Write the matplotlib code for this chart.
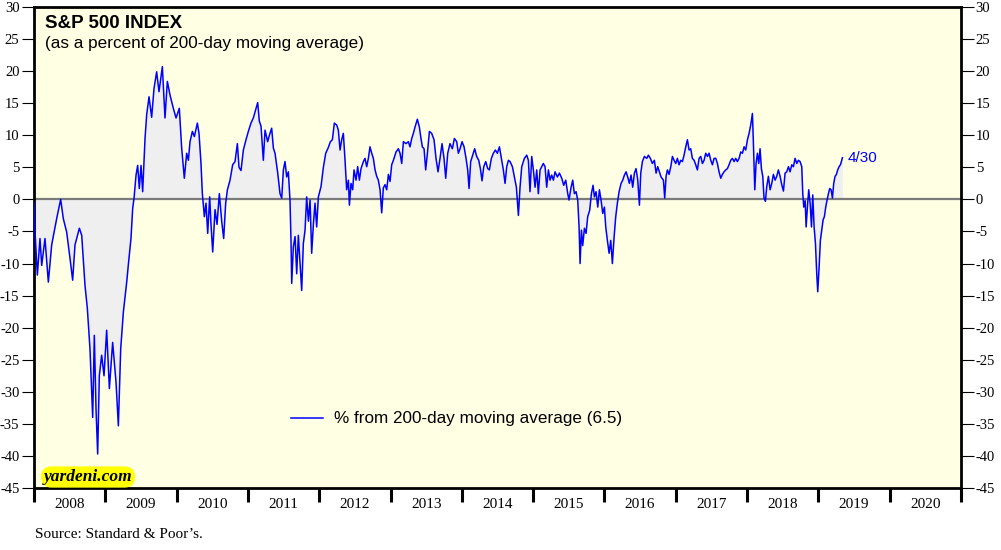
import matplotlib.pyplot as plt

plt.rcParams["axes.unicode_minus"] = False

# decimal year of each reading, and % above/below the 200-day moving average
years = [
    2008.000, 2008.014, 2008.047, 2008.084, 2008.108, 2008.154, 2008.201, 2008.248, 2008.318, 2008.374,
    2008.411, 2008.458, 2008.505, 2008.542, 2008.575, 2008.636, 2008.669, 2008.715, 2008.748, 2008.785,
    2008.823, 2008.846, 2008.870, 2008.893, 2008.916, 2008.949, 2008.982, 2009.019, 2009.057, 2009.103,
    2009.150, 2009.183, 2009.216, 2009.253, 2009.300, 2009.323, 2009.360, 2009.384, 2009.403, 2009.431,
    2009.454, 2009.477, 2009.501, 2009.524, 2009.557, 2009.580, 2009.613, 2009.650, 2009.683, 2009.720,
    2009.753, 2009.800, 2009.837, 2009.870, 2009.907, 2009.954, 2009.992, 2010.038,
    2010.071, 2010.108, 2010.141, 2010.165, 2010.188, 2010.221, 2010.249, 2010.291, 2010.314, 2010.342,
    2010.361, 2010.389, 2010.412, 2010.436, 2010.464, 2010.482, 2010.506, 2010.539, 2010.567, 2010.599,
    2010.632, 2010.660, 2010.688, 2010.712, 2010.749, 2010.786, 2010.819, 2010.852, 2010.875, 2010.903,
    2010.936, 2010.973, 2011.006, 2011.043, 2011.076, 2011.109, 2011.137, 2011.160, 2011.184, 2011.216,
    2011.240, 2011.277, 2011.301, 2011.333, 2011.357, 2011.380, 2011.418, 2011.450, 2011.474, 2011.497,
    2011.520, 2011.544, 2011.567, 2011.590, 2011.604, 2011.614, 2011.637, 2011.661, 2011.684, 2011.707,
    2011.731, 2011.754, 2011.777, 2011.801, 2011.824, 2011.848, 2011.871, 2011.894, 2011.918, 2011.941,
    2011.964, 2011.988, 2012.025, 2012.058, 2012.091, 2012.128, 2012.156, 2012.184, 2012.212,
    2012.245, 2012.268, 2012.292, 2012.315, 2012.338, 2012.362, 2012.385, 2012.409, 2012.423, 2012.446,
    2012.469, 2012.488, 2012.516, 2012.539, 2012.563, 2012.586, 2012.619, 2012.642, 2012.666, 2012.689,
    2012.712, 2012.736, 2012.759, 2012.783, 2012.806, 2012.829, 2012.853, 2012.876, 2012.899, 2012.923,
    2012.946, 2012.970, 2012.993, 2013.016, 2013.040, 2013.077, 2013.110, 2013.133, 2013.157, 2013.180,
    2013.217, 2013.250, 2013.273, 2013.297, 2013.320, 2013.344, 2013.376, 2013.404, 2013.423, 2013.446,
    2013.470, 2013.493, 2013.517, 2013.545, 2013.577, 2013.610, 2013.638, 2013.666, 2013.694, 2013.722,
    2013.750, 2013.774, 2013.802, 2013.834, 2013.867, 2013.895, 2013.928, 2013.951, 2013.975, 2014.003,
    2014.031, 2014.059, 2014.082, 2014.101, 2014.124, 2014.152, 2014.180, 2014.208, 2014.237, 2014.260,
    2014.283, 2014.307, 2014.335, 2014.363, 2014.386, 2014.414, 2014.442, 2014.470, 2014.498, 2014.527,
    2014.559, 2014.582, 2014.606, 2014.629, 2014.653, 2014.676, 2014.709, 2014.737, 2014.765, 2014.793,
    2014.816, 2014.840, 2014.877, 2014.910, 2014.933, 2014.956, 2014.980, 2015.003, 2015.027, 2015.050,
    2015.073, 2015.097, 2015.120, 2015.143, 2015.167, 2015.190, 2015.214, 2015.237, 2015.260, 2015.284,
    2015.307, 2015.340, 2015.368, 2015.401, 2015.429, 2015.457, 2015.485, 2015.503, 2015.532, 2015.555,
    2015.578, 2015.602, 2015.625, 2015.644, 2015.658, 2015.677, 2015.695, 2015.719, 2015.742, 2015.765,
    2015.793, 2015.817, 2015.840, 2015.859, 2015.882, 2015.906, 2015.929, 2015.952, 2015.976, 2015.999,
    2016.018, 2016.041, 2016.065, 2016.088, 2016.111, 2016.135, 2016.158, 2016.181, 2016.205, 2016.233,
    2016.256, 2016.280, 2016.303, 2016.326, 2016.350, 2016.373, 2016.396, 2016.420, 2016.443, 2016.467,
    2016.490, 2016.509, 2016.532, 2016.560, 2016.593, 2016.616, 2016.644, 2016.672, 2016.700, 2016.724,
    2016.747, 2016.770, 2016.794,
    2016.827, 2016.845, 2016.864, 2016.883, 2016.906, 2016.930, 2016.953, 2016.976, 2017.000, 2017.023,
    2017.046, 2017.070, 2017.093, 2017.116, 2017.140, 2017.163, 2017.187, 2017.210, 2017.233, 2017.257,
    2017.280, 2017.303, 2017.327, 2017.350, 2017.374, 2017.397, 2017.420, 2017.444, 2017.467, 2017.491,
    2017.514, 2017.537, 2017.561, 2017.584, 2017.607, 2017.631, 2017.654, 2017.677, 2017.701, 2017.724,
    2017.747, 2017.771, 2017.794, 2017.818, 2017.841, 2017.864, 2017.888, 2017.911, 2017.935, 2017.958,
    2017.981, 2018.005, 2018.028, 2018.051, 2018.075, 2018.089, 2018.108, 2018.126, 2018.145, 2018.164,
    2018.182, 2018.201, 2018.220, 2018.238, 2018.257, 2018.276, 2018.299, 2018.323, 2018.346, 2018.369,
    2018.393, 2018.416, 2018.439, 2018.463, 2018.486, 2018.510, 2018.533, 2018.556, 2018.580, 2018.603,
    2018.627, 2018.650, 2018.673, 2018.697, 2018.720, 2018.743, 2018.767, 2018.781, 2018.795, 2018.814,
    2018.828, 2018.846, 2018.865, 2018.884, 2018.903, 2018.921, 2018.940, 2018.959, 2018.977, 2018.991,
    2019.010, 2019.028, 2019.047, 2019.066, 2019.084, 2019.103, 2019.122, 2019.141, 2019.159, 2019.178,
    2019.197, 2019.215, 2019.234, 2019.253, 2019.271, 2019.290, 2019.309, 2019.328, 2019.337,
]
pct_from_ma = [
    -0.5, -5.0, -11.8, -6.1, -10.3, -6.1, -12.9, -7.1, -3.0, 0.0,
    -3.0, -5.1, -9.2, -12.6, -7.1, -4.5, -5.6, -13.4, -17.0, -23.3,
    -34.0, -21.2, -32.8, -39.7, -27.5, -24.3, -27.5, -20.4, -29.5, -22.3,
    -28.5, -35.3, -23.3, -17.6, -12.9, -10.2, -6.1, -1.4, 0.2, 3.8,
    5.3, 1.7, 5.3, 1.2, 9.5, 13.2, 16.0, 12.8, 17.3, 19.9,
    16.8, 20.7, 12.7, 18.4, 16.3, 14.2, 12.7, 14.2,
    8.0, 3.3, 7.2, 6.1, 9.0, 10.6, 9.8, 11.9, 10.3, 5.6,
    0.9, -2.7, -0.6, -5.3, 0.4, -3.9, -8.2, -1.6, -3.9, 0.9,
    -3.4, -6.1, -0.6, 1.5, 3.0, 5.4, 5.9, 8.7, 5.0, 4.5,
    7.7, 9.3, 10.6, 11.9, 12.7, 14.0, 15.1, 12.2, 11.4, 6.1,
    10.8, 9.0, 10.0, 11.1, 8.0, 7.2, 4.1, 0.9, 0.2, 4.6,
    5.9, 3.5, 4.3, -0.1, -6.4, -13.1, -7.4, -5.8, -11.6, -5.6,
    -10.0, -14.2, -6.9, -4.8, 0.4, -3.4, -0.1, -8.4, -3.9, -0.6,
    -4.3, 0.4, 2.0, 5.0, 7.2, 8.1, 9.0, 9.3, 11.9,
    11.6, 10.8, 7.7, 9.3, 10.3, 6.1, 1.5, 3.0, -0.9, 2.5,
    1.5, 4.6, 3.0, 5.1, 3.0, 4.8, 5.9, 6.4, 5.1, 6.4,
    8.2, 7.2, 6.4, 4.6, 3.6, 3.0, 1.5, -2.1, 1.8, 2.3,
    1.5, 3.9, 2.8, 5.4, 6.1, 7.4, 7.9, 7.2, 5.6, 9.0,
    8.7, 9.0, 8.2, 9.5, 10.3, 11.3, 12.5, 11.3, 9.8, 8.2,
    7.9, 4.6, 7.2, 10.6, 10.3, 9.3, 6.4, 4.3, 6.4, 8.7,
    6.4, 3.3, 7.2, 8.7, 7.9, 9.5, 9.0, 7.2, 7.9, 9.0,
    8.2, 6.4, 4.6, 1.7, 5.9, 6.9, 7.9, 6.7, 6.1, 4.8,
    2.9, 5.1, 5.9, 4.8, 4.6, 6.4, 7.2, 7.7, 7.2, 8.2,
    6.1, 4.6, 2.5, 5.1, 6.1, 5.9, 5.1, 3.5, 1.9, -2.5,
    1.9, 5.1, 6.4, 6.9, 6.1, 1.2, 6.7, 4.6, 1.9, 4.6,
    0.9, 4.6, 5.1, 5.6, 5.1, 1.9, 4.6, 3.0, 3.8, 3.0,
    4.3, 3.5, 4.1, 3.3, 2.2, 3.0, 0.9, -0.1, 1.9, 3.0,
    0.9, 1.2, -0.1, -4.3, -10.0, -4.8, -7.2, -4.5, -5.3, -2.7,
    -1.7, 0.9, 2.2, 0.4, 1.2, -1.2, 1.5, -0.1, -2.2, -1.2,
    -4.3, -6.4, -8.4, -6.4, -10.0, -5.9, -2.7, -0.6, 1.2, 2.5,
    3.0, 3.8, 4.3, 3.5, 2.5, 3.8, 1.9, 4.1, 4.8, 3.0,
    -0.9, 4.1, 5.9, 6.7, 6.4, 6.9, 6.4, 5.6, 6.1, 4.1,
    5.1, 4.3, 3.5,
    3.0, 0.2, 3.6, 4.6, 3.9, 5.1, 6.7, 6.1, 5.6, 6.4,
    5.4, 6.1, 5.9, 6.9, 8.2, 9.3, 7.7, 7.9, 6.4, 6.1,
    5.4, 4.6, 6.4, 6.7, 5.6, 6.1, 7.2, 6.7, 7.2, 6.1,
    5.4, 6.4, 6.4, 5.6, 4.3, 3.3, 3.9, 4.3, 4.6, 4.8,
    5.4, 6.1, 6.4, 5.9, 6.4, 5.9, 6.4, 7.4, 7.2, 8.2,
    7.7, 9.3, 10.3, 11.6, 13.4, 8.7, 1.5, 5.6, 7.2, 5.6,
    7.9, 4.8, 3.6, 0.2, -0.3, 2.0, 3.6, 1.5, 2.5, 3.9,
    3.0, 3.6, 4.6, 3.6, 2.3, 1.3, 4.1, 4.3, 5.1, 4.3,
    5.4, 5.1, 6.4, 5.6, 6.1, 5.9, 5.1, 0.9, -1.2, -0.2,
    -4.3, -1.2, 1.5, -0.6, -4.3, 0.7, -4.3, -6.9, -11.6, -14.4,
    -10.6, -6.4, -4.8, -3.2, -2.7, -1.2, -0.1, 0.9, 1.7, 1.5,
    0.2, 2.5, 3.6, 3.9, 4.6, 5.1, 5.4, 6.1, 6.5,
]
last_label = "4/30"
y_ticks = list(range(-45, 31, 5))
year_labels = [str(y) for y in range(2008, 2021)]

SANS = "Liberation Sans"
SERIF = "Liberation Serif"

fig = plt.figure(figsize=(10.01, 5.5), dpi=100)
ax = fig.add_axes([34 / 1001, 62 / 550, 927 / 1001, 481 / 550])
ax.set_facecolor("#FFFFE4")

ax.fill_between(years, pct_from_ma, 0, color="#EFEFEF", lw=0, zorder=1)
ax.axhline(0, color="#7A7A7A", lw=1.6, zorder=2)
line, = ax.plot(years, pct_from_ma, color="#0000FF", lw=1.1, zorder=3,
                label="% from 200-day moving average (6.5)")

ax.set_xlim(2008, 2021)
ax.set_ylim(-45, 30)

for s in ax.spines.values():
    s.set_linewidth(2.0)
    s.set_color("black")

# y ticks on both sides
ax.set_yticks(y_ticks)
ax.tick_params(axis="y", which="both", direction="out", length=9, width=0.8, pad=1.5,
               left=True, right=True, labelleft=True, labelright=True, labelsize=10.5)
for lab in ax.get_yticklabels():
    lab.set_fontfamily(SERIF)

# x: year boundary ticks, labels centred in between
ax.set_xticks(range(2008, 2022))
ax.set_xticklabels([])
ax.set_xticks([y + 0.5 for y in range(2008, 2021)], minor=True)
ax.set_xticklabels(year_labels, minor=True, fontfamily=SERIF, fontsize=11)
ax.tick_params(axis="x", which="major", direction="out", length=10, width=2.2)
ax.tick_params(axis="x", which="minor", length=0, pad=7)

# titles
fig.text(45 / 1001, 1 - 27.5 / 550, "S&P 500 INDEX", fontfamily=SANS, fontweight="bold",
         fontsize=13.5, va="baseline")
fig.text(45 / 1001, 1 - 48 / 550, "(as a percent of 200-day moving average)", fontfamily=SANS,
         fontsize=12.3, va="baseline")

# end label
ax.text(years[-1] + 0.07, pct_from_ma[-1], last_label, color="#0000FF", fontfamily=SANS,
        fontsize=11, va="center", ha="left")

ax.legend(handles=[line], loc="center left", bbox_to_anchor=((291 - 34) / 927, (488 - 419) / 481),
          frameon=False, borderpad=0, borderaxespad=0, handlelength=1.9, handletextpad=0.6,
          prop={"family": SANS, "size": 12.3})

ax.text((88 - 34) / 927, (488 - 477) / 481, "yardeni.com", transform=ax.transAxes,
        fontfamily=SERIF, fontweight="bold", fontstyle="italic", fontsize=12.5, ha="center", va="center",
        bbox=dict(boxstyle="round,pad=0.15,rounding_size=0.6", fc="#FFFF00", ec="none"), zorder=5)

fig.text(35 / 1001, 1 - 535 / 550, "Source: Standard & Poor\u2019s.", fontfamily=SERIF, fontsize=11,
         va="center")

fig.savefig("out.png", dpi=100)
